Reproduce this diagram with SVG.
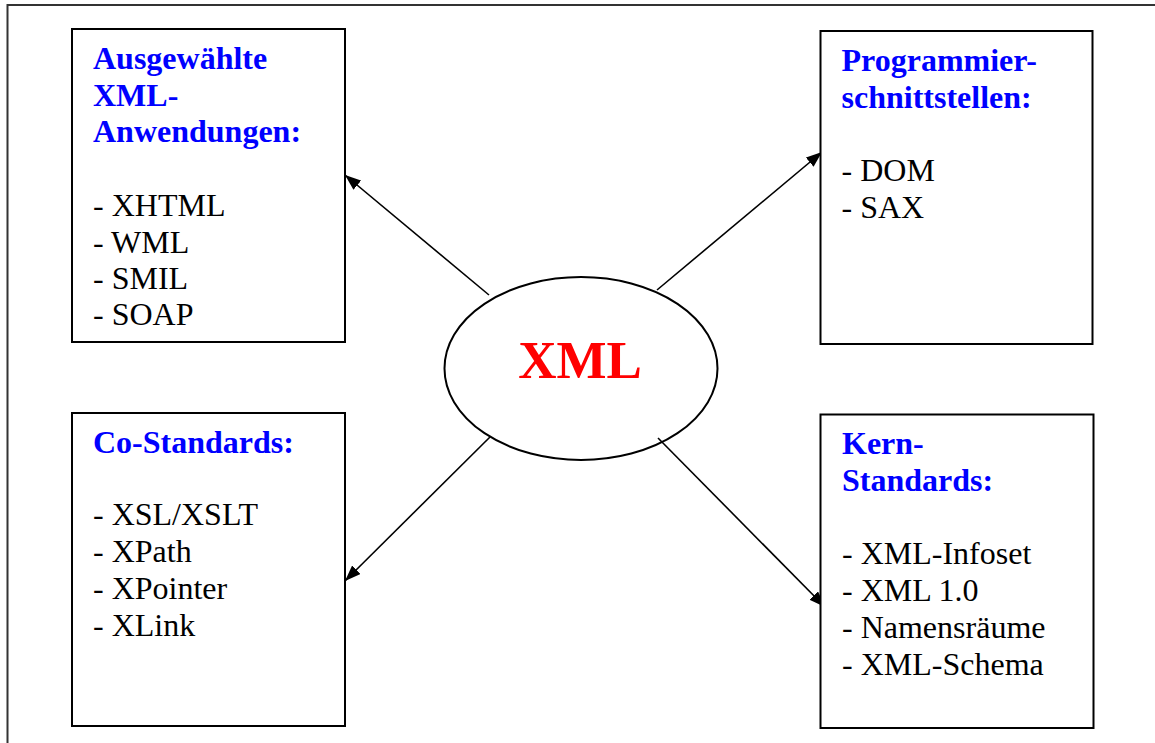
<svg xmlns="http://www.w3.org/2000/svg" width="1155" height="743" viewBox="0 0 1155 743">
<style>
.box{fill:#fff;stroke:#000;stroke-width:2}
.h{font-family:"Liberation Serif","Times New Roman",serif;font-size:32px;font-weight:bold;fill:#0000ff}
.t{font-family:"Liberation Serif","Times New Roman",serif;font-size:32px;fill:#000}
.c{stroke:#000;stroke-width:1.6;fill:none;marker-end:url(#ah)}
</style>
<defs>
<marker id="ah" markerUnits="userSpaceOnUse" markerWidth="18" markerHeight="12" refX="16" refY="6" orient="auto">
<path d="M0,0 L16,6 L0,12 z" fill="#000"/>
</marker>
</defs>
<rect width="1155" height="743" fill="#fff"/>
<path d="M7.5,743 V5 H1155" fill="none" stroke="#333" stroke-width="2"/>
<g id="connectors">
<line class="c" x1="489" y1="295" x2="345" y2="175"/>
<line class="c" x1="657" y1="290" x2="822" y2="152"/>
<line class="c" x1="490" y1="437" x2="345" y2="581"/>
<line class="c" x1="658" y1="438" x2="825" y2="607"/>
</g>
<g id="xml">
<ellipse cx="581" cy="368.5" rx="136.5" ry="91.5" fill="none" stroke="#000" stroke-width="2"/>
<text x="580" y="378" text-anchor="middle" font-family="Liberation Serif,'Times New Roman',serif" font-size="53" font-weight="bold" fill="#ff0000">XML</text>
</g>
<g id="anwendungen">
<rect class="box" x="72" y="29" width="273" height="313"/>
<text class="h" x="93" y="69">Ausgewählte</text>
<text class="h" x="93" y="105.5">XML-</text>
<text class="h" x="93" y="142">Anwendungen:</text>
<text class="t" x="93" y="216">- XHTML</text>
<text class="t" x="93" y="252.5">- WML</text>
<text class="t" x="93" y="289">- SMIL</text>
<text class="t" x="93" y="325">- SOAP</text>
</g>
<g id="programmierschnittstellen">
<rect class="box" x="820.5" y="31" width="272" height="313"/>
<text class="h" x="841.5" y="70.5">Programmier-</text>
<text class="h" x="841.5" y="107.5">schnittstellen:</text>
<text class="t" x="841.5" y="181">- DOM</text>
<text class="t" x="841.5" y="218">- SAX</text>
</g>
<g id="costandards">
<rect class="box" x="72" y="413" width="273" height="313"/>
<text class="h" x="93" y="453">Co-Standards:</text>
<text class="t" x="93" y="525">- XSL/XSLT</text>
<text class="t" x="93" y="562">- XPath</text>
<text class="t" x="93" y="599">- XPointer</text>
<text class="t" x="93" y="636">- XLink</text>
</g>
<g id="kernstandards">
<rect class="box" x="820.5" y="414.5" width="273" height="313.5"/>
<text class="h" x="842" y="454">Kern-</text>
<text class="h" x="842" y="491">Standards:</text>
<text class="t" x="842" y="564">- XML-Infoset</text>
<text class="t" x="842" y="601">- XML 1.0</text>
<text class="t" x="842" y="638">- Namensräume</text>
<text class="t" x="842" y="675">- XML-Schema</text>
</g>
</svg>
